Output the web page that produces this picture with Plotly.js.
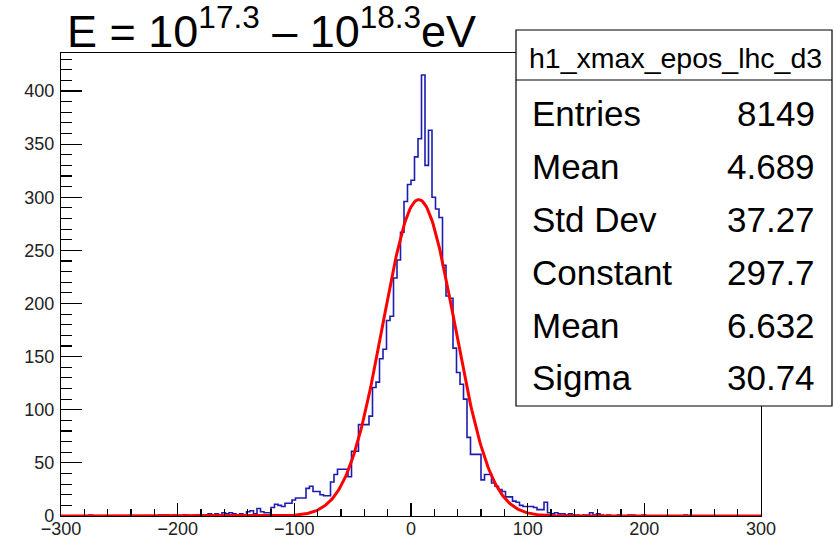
<!DOCTYPE html>
<html>
<head>
<meta charset="utf-8">
<script src="https://cdn.plot.ly/plotly-3.0.1.min.js"></script>
<style>
html,body{margin:0;padding:0;background:#fff;}
#chart{width:834px;height:537px;}
</style>
</head>
<body>
<div id="chart"></div>
<script>
// ---- histogram data (200 bins of width 3 from -300 to 300) ----
const binLowEdge = -300;
const binWidth = 3;
const counts = [
  0,0,0,0,0,0,0,0,1,0,   // -300 .. -270
  0,0,0,0,0,0,0,0,0,0,   // -270 .. -240
  0,0,0,0,0,0,0,0,1,1,   // -240 .. -210
  1,0,1,0,0,1,0,0,1,1,   // -210 .. -180
  1,1,2,1,2,1,3,2,3,2,   // -180 .. -150
  1,2,1,4,5,2,7,4,3,3,   // -150 .. -120
  8,11,10,9,12,12,15,17,17,17, // -120 .. -90
  26,28,23,23,20,19,19,32,39,44, // -90 .. -60
  44,44,37,61,61,86,86,86,94,121, // -60 .. -30
  126,148,157,184,188,224,241,267,296,312, // -30 .. 0
  316,338,355,415,330,363,300,289,281,236, // 0 .. 30
  207,205,158,135,124,110,74,58,58,58,     // 30 .. 60
  34,39,39,31,28,25,23,18,18,14,           // 60 .. 90
  13,10,9,9,9,8,6,6,13,3,                  // 90 .. 120
  2,3,2,2,1,2,1,1,0,1,                     // 120 .. 150
  1,3,1,2,1,0,1,0,0,1,                     // 150 .. 180
  0,0,1,1,0,0,1,0,0,0,                     // 180 .. 210
  0,0,0,0,0,0,0,0,1,0,                     // 210 .. 240
  0,0,0,0,0,0,0,0,0,0,                     // 240 .. 270
  0,0,0,0,0,0,0,0,0,0                      // 270 .. 300
];

// ---- Gaussian fit parameters (from the stats box) ----
const fitConstant = 297.7;
const fitMean = 6.632;
const fitSigma = 30.74;

// ---- stats box contents ----
const statsTitle = "h1_xmax_epos_lhc_d3";
const statsLabels = ["Entries", "Mean", "Std Dev", "Constant", "Mean", "Sigma"];
const statsValues = ["8149", "4.689", "37.27", "297.7", "6.632", "30.74"];

// ---- build step outline from bins ----
const edges = [];
const stepY = [];
for (let i = 0; i < counts.length; i++) {
  edges.push(binLowEdge + i * binWidth);
  stepY.push(counts[i]);
}
edges.push(binLowEdge + counts.length * binWidth);
stepY.push(counts[counts.length - 1]);

// fit curve evaluated from the fit parameters
const fitX = [], fitY = [];
const xMin = binLowEdge, xMax = binLowEdge + counts.length * binWidth;
for (let k = 0; k <= 600; k++) {
  const x = xMin + (xMax - xMin) * k / 600;
  fitX.push(x);
  fitY.push(fitConstant * Math.exp(-0.5 * Math.pow((x - fitMean) / fitSigma, 2)));
}

const yMax = Math.max(...counts) * 1.05;

// layout geometry (pixels)
const W = 834, H = 537;
const mL = 61, mR = 73, mT = 53, mB = 21;
const pw = W - mL - mR, ph = H - mT - mB;
const px = x => (x - mL) / pw;
const py = y => (H - mB - y) / ph;

const FONT = "Liberation Sans, Arial, Helvetica, sans-serif";

const annotations = [];
annotations.push({
  xref: 'paper', yref: 'paper', x: px(65), y: py(28),
  xanchor: 'left', yanchor: 'middle', showarrow: false,
  text: "E = 10<sup>17.3</sup> – 10<sup>18.3</sup>eV",
  font: {family: FONT, size: 45, color: '#000'}
});
annotations.push({
  xref: 'paper', yref: 'paper', x: px(675), y: py(58),
  xanchor: 'center', yanchor: 'middle', showarrow: false,
  text: statsTitle, font: {family: FONT, size: 28.5, color: '#000'}
});
const rowY = [113, 166, 219, 272, 325, 377];
statsLabels.forEach((lab, i) => {
  annotations.push({
    xref: 'paper', yref: 'paper', x: px(530), y: py(rowY[i]),
    xanchor: 'left', yanchor: 'middle', showarrow: false,
    text: lab, font: {family: FONT, size: 35, color: '#000'}
  });
  annotations.push({
    xref: 'paper', yref: 'paper', x: px(817), y: py(rowY[i]),
    xanchor: 'right', yanchor: 'middle', showarrow: false,
    text: statsValues[i], font: {family: FONT, size: 35, color: '#000'}
  });
});

const shapes = [
  {type: 'rect', xref: 'paper', yref: 'paper', x0: px(516), x1: px(832), y0: py(406), y1: py(30),
   line: {color: '#000', width: 1.2}, fillcolor: '#fff', layer: 'above'},
  {type: 'line', xref: 'paper', yref: 'paper', x0: px(516), x1: px(832), y0: py(80), y1: py(80),
   line: {color: '#000', width: 1.2}, layer: 'above'}
];

const traces = [
  {x: edges, y: stepY, type: 'scatter', mode: 'lines',
   line: {shape: 'hv', color: '#1c1cb0', width: 1.6}, hoverinfo: 'skip'},
  {x: fitX, y: fitY, type: 'scatter', mode: 'lines',
   line: {color: '#ff0000', width: 3}, hoverinfo: 'skip'}
];

const layout = {
  width: W, height: H,
  margin: {l: mL, r: mR, t: mT, b: mB, pad: 0},
  paper_bgcolor: '#fff', plot_bgcolor: '#fff',
  showlegend: false,
  font: {family: FONT, color: '#000'},
  xaxis: {
    range: [xMin, xMax], autorange: false, dtick: 100, tick0: 0,
    ticks: 'inside', ticklen: 13, tickwidth: 1.2, tickcolor: '#000',
    minor: {dtick: 20, ticks: 'inside', ticklen: 7, tickwidth: 1.2, tickcolor: '#000'},
    showline: true, linecolor: '#000', linewidth: 1.2, mirror: true,
    showgrid: false, zeroline: false,
    ticklabelstandoff: -4,
    tickfont: {family: FONT, size: 18, color: '#222'}
  },
  yaxis: {
    range: [0, yMax], autorange: false, dtick: 50, tick0: 0,
    ticks: 'inside', ticklen: 21, tickwidth: 1.2, tickcolor: '#000',
    minor: {dtick: 10, ticks: 'inside', ticklen: 11, tickwidth: 1.2, tickcolor: '#000'},
    showline: true, linecolor: '#000', linewidth: 1.2, mirror: true,
    showgrid: false, zeroline: false,
    ticklabelstandoff: 2,
    tickfont: {family: FONT, size: 18, color: '#222'}
  },
  annotations: annotations,
  shapes: shapes
};

Plotly.newPlot('chart', traces, layout, {staticPlot: true, displayModeBar: false});
</script>
</body>
</html>
